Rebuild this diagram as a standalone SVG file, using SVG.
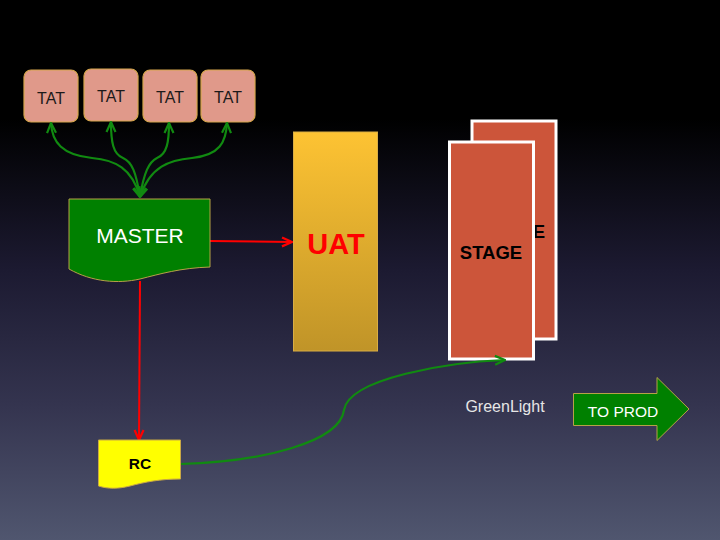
<svg xmlns="http://www.w3.org/2000/svg" width="720" height="540" viewBox="0 0 720 540">
<defs>
<linearGradient id="bg" x1="0" y1="0" x2="0" y2="1">
<stop offset="0" stop-color="#000000"/>
<stop offset="0.22" stop-color="#000000"/>
<stop offset="0.5" stop-color="#1c1a31"/>
<stop offset="0.75" stop-color="#34344f"/>
<stop offset="1" stop-color="#50566f"/>
</linearGradient>
<linearGradient id="uat" x1="0" y1="0" x2="0" y2="1">
<stop offset="0" stop-color="#fdc333"/>
<stop offset="1" stop-color="#c09428"/>
</linearGradient>
<marker id="ag" viewBox="0 0 12 12" refX="11" refY="6" markerWidth="12" markerHeight="12" markerUnits="userSpaceOnUse" orient="auto-start-reverse">
<path d="M1,1.5 L11,6 L1,10.5" fill="none" stroke="#118a11" stroke-width="2.2"/>
</marker>
<marker id="ar" viewBox="0 0 12 12" refX="11" refY="6" markerWidth="12" markerHeight="12" markerUnits="userSpaceOnUse" orient="auto">
<path d="M1,1.5 L11,6 L1,10.5" fill="none" stroke="#ff0000" stroke-width="2.2"/>
</marker>
<style>
.tat{fill:#e0998a;stroke:#d6a64c;stroke-width:1.2}
.tt{font-family:"Liberation Sans",Arial,sans-serif;font-size:16px;fill:#1c1a1a;text-anchor:middle}
.g{fill:none;stroke:#118a11;stroke-width:2.2}
.r{fill:none;stroke:#ff0000;stroke-width:2}
.stg{fill:#cc553a;stroke:#ffffff;stroke-width:3}
.st{font-family:"Liberation Sans",Arial,sans-serif;font-weight:bold;font-size:18.5px;fill:#000;text-anchor:middle}
</style>
</defs>
<rect width="720" height="540" fill="url(#bg)"/>

<g id="tat1"><rect class="tat" x="24" y="70" width="54" height="52" rx="7"/><text class="tt" x="51" y="104">TAT</text></g>
<g id="tat2"><rect class="tat" x="84" y="69" width="54" height="52" rx="7"/><text class="tt" x="111" y="102">TAT</text></g>
<g id="tat3"><rect class="tat" x="143" y="70" width="54" height="52" rx="7"/><text class="tt" x="170" y="103">TAT</text></g>
<g id="tat4"><rect class="tat" x="201" y="70" width="54" height="52" rx="7"/><text class="tt" x="228" y="103">TAT</text></g>

<g id="uat-node">
<rect x="293.5" y="132" width="84" height="219" fill="url(#uat)" stroke="#d9ad44" stroke-width="1"/>
<text x="336" y="254" font-family="Liberation Sans,Arial,sans-serif" font-weight="bold" font-size="29" fill="#ff0000" text-anchor="middle">UAT</text>
</g>

<g id="stage">
<rect class="stg" x="472" y="121" width="84" height="218"/>
<text class="st" x="514" y="238">STAGE</text>
<rect class="stg" x="449.5" y="142" width="84" height="217"/>
<text class="st" x="491" y="259">STAGE</text>
</g>

<g id="connectors">
<path class="g" d="M140,197 C132,168 115,160 92,158 C62,155 52,142 51,123" marker-start="url(#ag)" marker-end="url(#ag)"/>
<path class="g" d="M140,197 C136,172 132,162 123,158 C113,154 111,142 111,122" marker-start="url(#ag)" marker-end="url(#ag)"/>
<path class="g" d="M140,197 C144,172 149,162 157,158 C167,154 169,142 169,123" marker-start="url(#ag)" marker-end="url(#ag)"/>
<path class="g" d="M140,197 C150,166 170,160 192,158 C220,155 226,142 227,123" marker-start="url(#ag)" marker-end="url(#ag)"/>
<path class="r" d="M210,241 L292,242" marker-end="url(#ar)"/>
<path class="r" d="M140,281 L139,440" marker-end="url(#ar)"/>
<path class="g" d="M180,464 C262,462 340,442 344,410 C349,378 450,362 505,360" marker-end="url(#ag)"/>
</g>

<g id="master">
<path d="M69,199 L210,199 L210,267 C180,268 160,274 140,279 C118,284 92,282 69,269 Z" fill="#008000" stroke="#b6a147" stroke-width="1"/>
<text x="140" y="243" font-family="Liberation Sans,Arial,sans-serif" font-size="21" fill="#ffffff" text-anchor="middle">MASTER</text>
</g>

<g id="rc">
<path d="M98.5,440 L180.5,440 L180.5,479 C160,479 145,482 130,486 C118,489 108,489 98.5,486 Z" fill="#ffff00" stroke="#c9a845" stroke-width="1"/>
<text x="140" y="469" font-family="Liberation Sans,Arial,sans-serif" font-weight="bold" font-size="15.5" fill="#000" text-anchor="middle">RC</text>
</g>

<g id="greenlight">
<text x="505" y="412" font-family="Liberation Sans,Arial,sans-serif" font-size="16" fill="#e6e6e6" text-anchor="middle">GreenLight</text>
</g>

<g id="toprod">
<path d="M573.5,393.5 L657,393.5 L657,377.5 L689,409 L657,440.5 L657,425.5 L573.5,425.5 Z" fill="#008000" stroke="#b6a147" stroke-width="1"/>
<text x="623" y="417" font-family="Liberation Sans,Arial,sans-serif" font-size="15.5" fill="#ffffff" text-anchor="middle">TO PROD</text>
</g>
</svg>
